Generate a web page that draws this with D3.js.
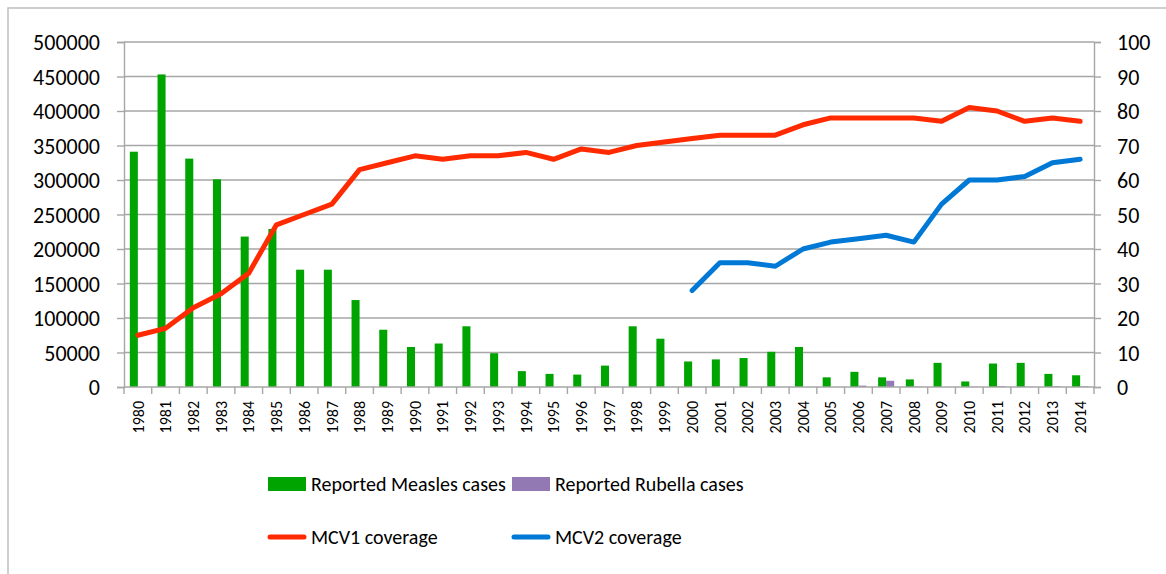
<!DOCTYPE html>
<html lang="en">
<head>
<meta charset="utf-8">
<title>Measles cases and MCV coverage</title>
<script src="https://cdn.jsdelivr.net/npm/d3@7"></script>
<style>
body { margin: 0; background: #fff; }
svg text { font-family: Carlito, Calibri, Lato, sans-serif; fill: #000; }
</style>
</head>
<body>
<script>
var years = d3.range(1980, 2015).map(String);
var measles = [341000, 453000, 331000, 301000, 218000, 229000, 170000, 170000, 126000, 83000,
  58000, 63000, 88000, 49000, 23000, 19000, 18000, 31000, 88000, 70000,
  37000, 40000, 42000, 51000, 58000, 14000, 22000, 14000, 11000, 35000,
  8000, 34000, 35000, 19000, 17000];
var rubella = [0, 0, 0, 0, 0, 0, 0, 0, 0, 0,
  0, 0, 0, 0, 0, 0, 0, 0, 0, 0,
  0, 0, 0, 0, 0, 0, 2000, 9000, 500, 0,
  300, 1000, 300, 1000, 1000];
var mcv1 = [15, 17, 23, 27, 33, 47, 50, 53, 63, 65,
  67, 66, 67, 67, 68, 66, 69, 68, 70, 71,
  72, 73, 73, 73, 76, 78, 78, 78, 78, 77,
  81, 80, 77, 78, 77];
var mcv2 = [null, null, null, null, null, null, null, null, null, null,
  null, null, null, null, null, null, null, null, null, null,
  28, 36, 36, 35, 40, 42, 43, 44, 42, 53,
  60, 60, 61, 65, 66];
var leftTicks = d3.range(0, 500001, 50000);
var rightTicks = d3.range(0, 101, 10);

var svg = d3.select("body").append("svg")
  .attr("width", 1166)
  .attr("height", 574);

// outer frame
svg.append("rect")
  .attr("x", 8).attr("y", 8)
  .attr("width", 1200).attr("height", 600)
  .attr("fill", "none")
  .attr("stroke", "#bfbfbf")
  .attr("stroke-width", 1.5);

var x = d3.scaleBand().domain(years).range([124, 1094]).padding(0);
var yL = d3.scaleLinear().domain([0, 500000]).range([387, 42]);
var yR = d3.scaleLinear().domain([0, 100]).range([387, 42]);
var bw = x.bandwidth();
var barW = bw * 0.29;

// gridlines
svg.append("g").selectAll("line")
  .data(leftTicks.slice(1))
  .enter().append("line")
  .attr("x1", 124).attr("x2", 1094)
  .attr("y1", function(d) { return yL(d); })
  .attr("y2", function(d) { return yL(d); })
  .attr("stroke", "#a6a6a6")
  .attr("stroke-width", 1.4);

// left axis
var gl = svg.append("g").attr("transform", "translate(124,0)")
  .call(d3.axisLeft(yL).tickValues(leftTicks).tickSize(7).tickPadding(17).tickFormat(d3.format("d")));
// right axis
var gr = svg.append("g").attr("transform", "translate(1094,0)")
  .call(d3.axisRight(yR).tickValues(rightTicks).tickSize(7).tickPadding(16));
[gl, gr].forEach(function(g) {
  g.select(".domain").attr("stroke", "#a6a6a6").attr("stroke-width", 1.4);
  g.selectAll(".tick line").attr("stroke", "#a6a6a6").attr("stroke-width", 1.4);
  g.selectAll("text").style("font-size", "22px").attr("dy", "0.36em");
});

// bars
svg.append("g").selectAll("rect")
  .data(measles)
  .enter().append("rect")
  .attr("x", function(d, i) { return x(years[i]) + bw / 2 - barW; })
  .attr("y", function(d) { return yL(d); })
  .attr("width", barW)
  .attr("height", function(d) { return yL(0) - yL(d); })
  .attr("fill", "#00a400");
svg.append("g").selectAll("rect")
  .data(rubella)
  .enter().append("rect")
  .attr("x", function(d, i) { return x(years[i]) + bw / 2; })
  .attr("y", function(d) { return yL(d); })
  .attr("width", barW)
  .attr("height", function(d) { return yL(0) - yL(d); })
  .attr("fill", "#9279b3");

// x axis
var gx = svg.append("g").attr("transform", "translate(0,387)");
gx.append("line")
  .attr("x1", 124).attr("x2", 1094)
  .attr("stroke", "#a6a6a6").attr("stroke-width", 1.4);
gx.selectAll("line.tk")
  .data(years.concat(["end"]))
  .enter().append("line")
  .attr("class", "tk")
  .attr("x1", function(d, i) { return 124 + i * bw; })
  .attr("x2", function(d, i) { return 124 + i * bw; })
  .attr("y1", 0).attr("y2", 7)
  .attr("stroke", "#a6a6a6").attr("stroke-width", 1.4);
gx.selectAll("text")
  .data(years)
  .enter().append("text")
  .attr("transform", function(d) { return "translate(" + (x(d) + bw / 2) + ",14) rotate(-90)"; })
  .attr("text-anchor", "end")
  .attr("dy", "0.36em")
  .style("font-size", "16px")
  .text(function(d) { return d; });

// lines
var line = d3.line()
  .defined(function(d) { return d != null; })
  .x(function(d, i) { return x(years[i]) + bw / 2; })
  .y(function(d) { return yR(d); });
svg.append("path")
  .datum(mcv1)
  .attr("d", line)
  .attr("fill", "none")
  .attr("stroke", "#ff2a00")
  .attr("stroke-width", 5)
  .attr("stroke-linejoin", "round")
  .attr("stroke-linecap", "round");
svg.append("path")
  .datum(mcv2)
  .attr("d", line)
  .attr("fill", "none")
  .attr("stroke", "#0079d6")
  .attr("stroke-width", 5)
  .attr("stroke-linejoin", "round")
  .attr("stroke-linecap", "round");

// legend
var legendItems = [
  { label: "Reported Measles cases", color: "#00a400", type: "rect", col: 0, row: 0 },
  { label: "Reported Rubella cases", color: "#9279b3", type: "rect", col: 1, row: 0 },
  { label: "MCV1 coverage", color: "#ff2a00", type: "line", col: 0, row: 1 },
  { label: "MCV2 coverage", color: "#0079d6", type: "line", col: 1, row: 1 }
];
var lg = svg.append("g").selectAll("g")
  .data(legendItems)
  .enter().append("g")
  .attr("transform", function(d) { return "translate(" + (268 + d.col * 244) + "," + (484 + d.row * 53) + ")"; });
lg.filter(function(d) { return d.type === "rect"; })
  .append("rect")
  .attr("x", 0).attr("y", -7)
  .attr("width", 38).attr("height", 14)
  .attr("fill", function(d) { return d.color; });
lg.filter(function(d) { return d.type === "line"; })
  .append("line")
  .attr("x1", 2).attr("x2", 36)
  .attr("stroke", function(d) { return d.color; })
  .attr("stroke-width", 5)
  .attr("stroke-linecap", "round");
lg.append("text")
  .attr("x", 43)
  .attr("dy", "0.36em")
  .style("font-size", "20px")
  .text(function(d) { return d.label; });
</script>
</body>
</html>
